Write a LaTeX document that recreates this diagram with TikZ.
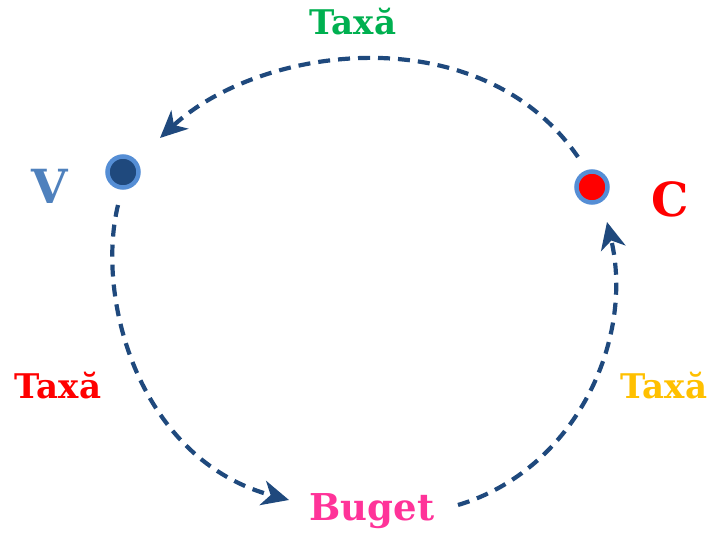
\documentclass[tikz,border=0pt]{standalone}
\usepackage{fontspec}
\setmainfont{DejaVu Serif}
\usetikzlibrary{arrows.meta}
\definecolor{darkblue}{RGB}{31,73,125}
\definecolor{ringblue}{RGB}{85,142,213}
\definecolor{vblue}{RGB}{79,129,189}
\definecolor{tgreen}{RGB}{0,176,80}
\definecolor{tyellow}{RGB}{255,192,0}
\definecolor{tpink}{RGB}{255,51,153}
\tikzset{
  flow/.style={draw=darkblue, line width=4.2pt, dash pattern=on 12pt off 8pt, -{Stealth[length=27pt,width=25pt,inset=8pt]}},
  dot/.style={circle, draw=ringblue, line width=4.5pt, minimum size=31pt, inner sep=0pt},
  lbl/.style={font=\bfseries\fontsize{34}{38}\selectfont, inner sep=0pt},
  big/.style={font=\bfseries\fontsize{47}{50}\selectfont, inner sep=0pt}
}
\begin{document}
\begin{tikzpicture}[x=1pt,y=-1pt]
\useasboundingbox (0,0) rectangle (710,535);
\node[dot, fill=darkblue] (v) at (123,172) {};
\node[dot, fill=red] (c) at (592,187) {};
\node[big, text=vblue] (vl) at (50,186) {V};
\node[big, text=red] (cl) at (670,199) {C};
\node[lbl, text=tpink, font=\bfseries\fontsize{37}{40}\selectfont] (b) at (372,511) {Buget};
\node[lbl, text=tgreen] (t1) at (353,22) {Taxă};
\node[lbl, text=red] (t2) at (58,386) {Taxă};
\node[lbl, text=tyellow] (t3) at (664,386) {Taxă};
\coordinate (a1s) at (578,157);
\coordinate (a1e) at (160,138);
\coordinate (a2s) at (118,205);
\coordinate (a2e) at (289,500);
\coordinate (a3s) at (458,505);
\coordinate (a3e) at (607,222);
\draw[flow] (a1s) .. controls (480,15) and (260,45) .. (a1e);
\draw[flow] (a2s) .. controls (95,300) and (140,460) .. (a2e);
\draw[flow] (a3s) .. controls (575,470) and (635,340) .. (a3e);
\end{tikzpicture}
\end{document}
